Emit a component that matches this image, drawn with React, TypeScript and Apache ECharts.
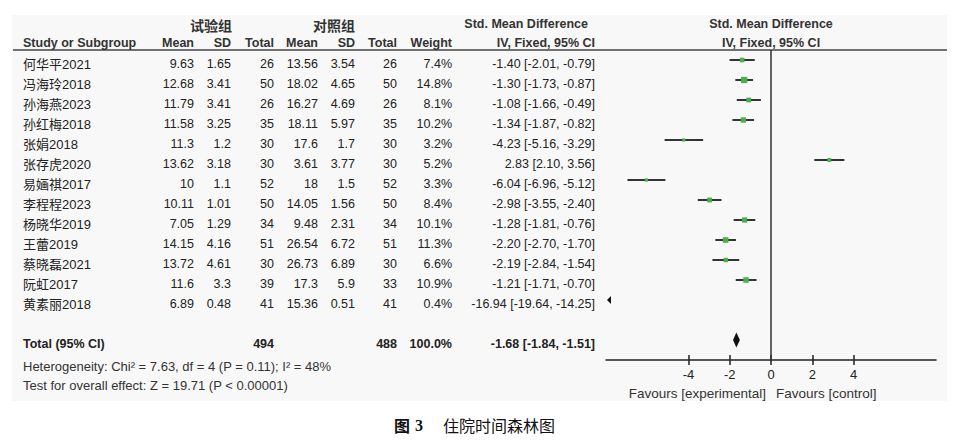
import React, { useEffect, useRef } from 'react';
import * as echarts from 'echarts';

// ---------------- data ----------------
const studies = ['何华平2021', '冯海玲2018', '孙海燕2023', '孙红梅2018', '张娟2018', '张存虎2020', '易婳祺2017', '李程程2023', '杨晓华2019', '王蕾2019', '蔡晓磊2021', '阮虹2017', '黄素丽2018'];
const expMean = ['9.63', '12.68', '11.79', '11.58', '11.3', '13.62', '10', '10.11', '7.05', '14.15', '13.72', '11.6', '6.89'];
const expSD = ['1.65', '3.41', '3.41', '3.25', '1.2', '3.18', '1.1', '1.01', '1.29', '4.16', '4.61', '3.3', '0.48'];
const expTotal = [26, 50, 26, 35, 30, 30, 52, 50, 34, 51, 30, 39, 41];
const ctrlMean = ['13.56', '18.02', '16.27', '18.11', '17.6', '3.61', '18', '14.05', '9.48', '26.54', '26.73', '17.3', '15.36'];
const ctrlSD = ['3.54', '4.65', '4.69', '5.97', '1.7', '3.77', '1.5', '1.56', '2.31', '6.72', '6.89', '5.9', '0.51'];
const ctrlTotal = [26, 50, 26, 35, 30, 30, 52, 50, 34, 51, 30, 33, 41];
const weights = [7.4, 14.8, 8.1, 10.2, 3.2, 5.2, 3.3, 8.4, 10.1, 11.3, 6.6, 10.9, 0.4];
const smd = [-1.40, -1.30, -1.08, -1.34, -4.23, 2.83, -6.04, -2.98, -1.28, -2.20, -2.19, -1.21, -16.94];
const ciLow = [-2.01, -1.73, -1.66, -1.87, -5.16, 2.10, -6.96, -3.55, -1.81, -2.70, -2.84, -1.71, -19.64];
const ciHigh = [-0.79, -0.87, -0.49, -0.82, -3.29, 3.56, -5.12, -2.40, -0.76, -1.70, -1.54, -0.70, -14.25];

const totalExpN = 494;
const totalCtrlN = 488;
const totalWeight = 100.0;
const totalSmd = -1.68;
const totalLow = -1.84;
const totalHigh = -1.51;

const heterogeneityText = 'Heterogeneity: Chi² = 7.63, df = 4 (P = 0.11); I² = 48%';
const overallEffectText = 'Test for overall effect: Z = 19.71 (P < 0.00001)';
const axisTickValues = [-4, -2, 0, 2, 4];
const axisMin = -8;
const axisMax = 8;

// ---------------- layout / style ----------------
const NARROW = '"Liberation Sans Narrow", "Arial Narrow", "Liberation Sans", Arial, "Noto Sans CJK SC", sans-serif';
const CJK = '"Noto Sans CJK SC", sans-serif';
const TEXT = '#222';
const GREEN = '#47b04b';
const ROW_TOTAL = 14;
const TABLE_GRID_LEFT = 600;
const FS = 12.5;

const fmt2 = (v: number) => v.toFixed(2);
const ciText = (e: number, l: number, h: number) => `${fmt2(e)} [${fmt2(l)}, ${fmt2(h)}]`;

function withTotal(vals: string[], total: string): string[] {
  const out = vals.slice();
  while (out.length < ROW_TOTAL) out.push('');
  out.push(total);
  return out;
}

const colStudy = withTotal(studies, 'Total (95% CI)');
const colExpMean = withTotal(expMean, '');
const colExpSD = withTotal(expSD, '');
const colExpTotal = withTotal(expTotal.map(String), String(totalExpN));
const colCtrlMean = withTotal(ctrlMean, '');
const colCtrlSD = withTotal(ctrlSD, '');
const colCtrlTotal = withTotal(ctrlTotal.map(String), String(totalCtrlN));
const colWeight = withTotal(weights.map((w) => `${w.toFixed(1)}%`), `${totalWeight.toFixed(1)}%`);
const colCI = withTotal(smd.map((e, i) => ciText(e, ciLow[i], ciHigh[i])), ciText(totalSmd, totalLow, totalHigh));

const richStyles = {
  n: { fontFamily: NARROW, fontSize: FS, color: TEXT },
  s: { fontFamily: NARROW, fontSize: 13, color: TEXT },
  b: { fontFamily: NARROW, fontSize: FS, color: TEXT, fontWeight: 'bold' },
};

function tableAxis(colX: number, labels: string[], align: 'left' | 'right', style = 'n') {
  return {
    type: 'value',
    gridIndex: 1,
    position: 'left',
    offset: TABLE_GRID_LEFT - colX,
    inverse: true,
    min: 0,
    max: ROW_TOTAL,
    interval: 1,
    axisLine: { show: false },
    axisTick: { show: false },
    splitLine: { show: false },
    axisLabel: {
      show: true,
      margin: 0,
      align,
      rich: richStyles,
      formatter: (v: number) => {
        const i = Math.round(v);
        const s = labels[i] ?? '';
        if (!s) return '';
        return i === ROW_TOTAL ? `{b|${s}}` : `{${style}|${s}}`;
      },
    },
  };
}

function headerText(text: string, x: number, y: number, align: string, cjk = false) {
  return {
    type: 'text',
    x,
    y,
    silent: true,
    style: {
      text,
      textAlign: align,
      textVerticalAlign: 'middle',
      fontFamily: cjk ? CJK : NARROW,
      fontSize: cjk ? 14 : FS,
      fontWeight: 'bold',
      fill: '#333',
    },
  };
}

function plainText(text: string, x: number, y: number, align: string, size = 13) {
  return {
    type: 'text',
    x,
    y,
    silent: true,
    style: {
      text,
      textAlign: align,
      textVerticalAlign: 'middle',
      fontFamily: NARROW,
      fontSize: size,
      fill: '#333',
    },
  };
}

export default function App() {
  const ref = useRef<HTMLDivElement>(null);

  useEffect(() => {
    if (!ref.current) return;
    const chart = echarts.init(ref.current, undefined, { renderer: 'svg' });

    const studyData = studies.map((_, i) => [ciLow[i], ciHigh[i], smd[i], i, weights[i]]);
    const totalData = [[totalLow, totalHigh, totalSmd, ROW_TOTAL]];

    const option: any = {
      animation: false,
      backgroundColor: '#ffffff',
      grid: [
        { left: 606, top: 50, width: 330, height: 310, containLabel: false },
        { left: TABLE_GRID_LEFT, top: 64, width: 10, height: 280, containLabel: false },
      ],
      xAxis: [
        {
          type: 'value',
          gridIndex: 0,
          position: 'bottom',
          min: axisMin,
          max: axisMax,
          axisLine: { show: true, onZero: false, lineStyle: { color: '#222', width: 1.5 } },
          axisTick: { show: true, inside: false, length: 5, customValues: axisTickValues, lineStyle: { color: '#222', width: 1.5 } },
          axisLabel: { show: true, customValues: axisTickValues, margin: 8, fontFamily: NARROW, fontSize: 13, color: '#222' },
          splitLine: { show: false },
        },
        {
          type: 'value',
          gridIndex: 0,
          position: 'bottom',
          offset: 0,
          min: axisMin,
          max: axisMax,
          axisLine: { show: false, onZero: false },
          axisTick: { show: true, inside: true, length: 5, customValues: axisTickValues, lineStyle: { color: '#222', width: 1.5 } },
          axisLabel: { show: false },
          splitLine: { show: false },
        },
        { type: 'value', gridIndex: 1, show: false, min: 0, max: 1 },
      ],
      yAxis: [
        { type: 'value', gridIndex: 0, inverse: true, min: -0.5, max: 15, show: false, splitLine: { show: false } },
        tableAxis(23, colStudy, 'left', 's'),
        tableAxis(194, colExpMean, 'right'),
        tableAxis(231, colExpSD, 'right'),
        tableAxis(274, colExpTotal, 'right'),
        tableAxis(318, colCtrlMean, 'right'),
        tableAxis(355, colCtrlSD, 'right'),
        tableAxis(397, colCtrlTotal, 'right'),
        tableAxis(452, colWeight, 'right'),
        tableAxis(595, colCI, 'right'),
      ],
      graphic: {
        elements: [
          { type: 'rect', z: -100, silent: true, shape: { x: 12, y: 15, width: 935, height: 386 }, style: { fill: '#f8f8f8' } },
          { type: 'line', silent: true, shape: { x1: 13, y1: 50, x2: 947, y2: 50 }, style: { stroke: '#444', lineWidth: 1.5 } },
          headerText('试验组', 211, 25, 'center', true),
          headerText('对照组', 334, 25, 'center', true),
          headerText('Std. Mean Difference', 588, 24, 'right'),
          headerText('Std. Mean Difference', 771, 24, 'center'),
          headerText('Study or Subgroup', 23, 43, 'left'),
          headerText('Mean', 194, 43, 'right'),
          headerText('SD', 231, 43, 'right'),
          headerText('Total', 274, 43, 'right'),
          headerText('Mean', 318, 43, 'right'),
          headerText('SD', 355, 43, 'right'),
          headerText('Total', 397, 43, 'right'),
          headerText('Weight', 452, 43, 'right'),
          headerText('IV, Fixed, 95% CI', 595, 43, 'right'),
          headerText('IV, Fixed, 95% CI', 771, 43, 'center'),
          plainText(heterogeneityText, 23, 366, 'left'),
          plainText(overallEffectText, 23, 385, 'left'),
          plainText('Favours [experimental]', 766, 393, 'right', 13.5),
          plainText('Favours [control]', 776, 393, 'left', 13.5),
          {
            type: 'text', x: 394, y: 425, silent: true,
            style: { text: '图', textAlign: 'left', textVerticalAlign: 'middle', fontFamily: CJK, fontSize: 16, fontWeight: 'bold', fill: '#111' },
          },
          {
            type: 'text', x: 415, y: 425, silent: true,
            style: { text: '3', textAlign: 'left', textVerticalAlign: 'middle', fontFamily: '"Liberation Serif", serif', fontSize: 16, fontWeight: 'bold', fill: '#111' },
          },
          {
            type: 'text', x: 443, y: 425, silent: true,
            style: { text: '住院时间森林图', textAlign: 'left', textVerticalAlign: 'middle', fontFamily: CJK, fontSize: 16, fill: '#111' },
          },
        ],
      },
      series: [
        {
          type: 'custom',
          name: 'studies',
          xAxisIndex: 0,
          yAxisIndex: 0,
          data: studyData,
          encode: { x: [0, 1, 2], y: 3 },
          renderItem: (params: any, api: any) => {
            const lo = api.value(0);
            const hi = api.value(1);
            const est = api.value(2);
            const row = api.value(3);
            const w = api.value(4);
            const cs = params.coordSys;
            const left = cs.x;
            const right = cs.x + cs.width;
            const pLo = api.coord([lo, row]);
            const pHi = api.coord([hi, row]);
            const pE = api.coord([est, row]);
            const y = pE[1];
            if (pHi[0] < left) {
              return {
                type: 'polygon',
                shape: { points: [[left + 1, y], [left + 5, y - 4], [left + 5, y + 4]] },
                style: { fill: '#111' },
              };
            }
            const x1 = Math.max(pLo[0], left);
            const x2 = Math.min(pHi[0], right);
            const size = 1.5 * Math.sqrt(w) + 0.5;
            return {
              type: 'group',
              children: [
                { type: 'line', shape: { x1, y1: y, x2, y2: y }, style: { stroke: '#333', lineWidth: 2 } },
                { type: 'rect', shape: { x: pE[0] - size / 2, y: y - size / 2, width: size, height: size }, style: { fill: GREEN } },
              ],
            };
          },
          z: 3,
        },
        {
          type: 'custom',
          name: 'total',
          xAxisIndex: 0,
          yAxisIndex: 0,
          data: totalData,
          encode: { x: [0, 1, 2], y: 3 },
          renderItem: (params: any, api: any) => {
            const row = api.value(3);
            const pLo = api.coord([api.value(0), row]);
            const pHi = api.coord([api.value(1), row]);
            const pE = api.coord([api.value(2), row]);
            const h = 7.5;
            return {
              type: 'polygon',
              shape: { points: [[pLo[0], pE[1]], [pE[0], pE[1] - h], [pHi[0], pE[1]], [pE[0], pE[1] + h]] },
              style: { fill: '#111' },
            };
          },
          markLine: {
            silent: true,
            symbol: 'none',
            label: { show: false },
            lineStyle: { color: '#333', width: 1.5, type: 'solid' },
            data: [{ xAxis: 0 }],
          },
          z: 3,
        },
      ],
    };

    chart.setOption(option);
    return () => chart.dispose();
  }, []);

  return (
    <div
      ref={ref}
      style={{ position: 'fixed', left: 0, top: 0, width: 957, height: 445, background: '#fff' }}
    />
  );
}
